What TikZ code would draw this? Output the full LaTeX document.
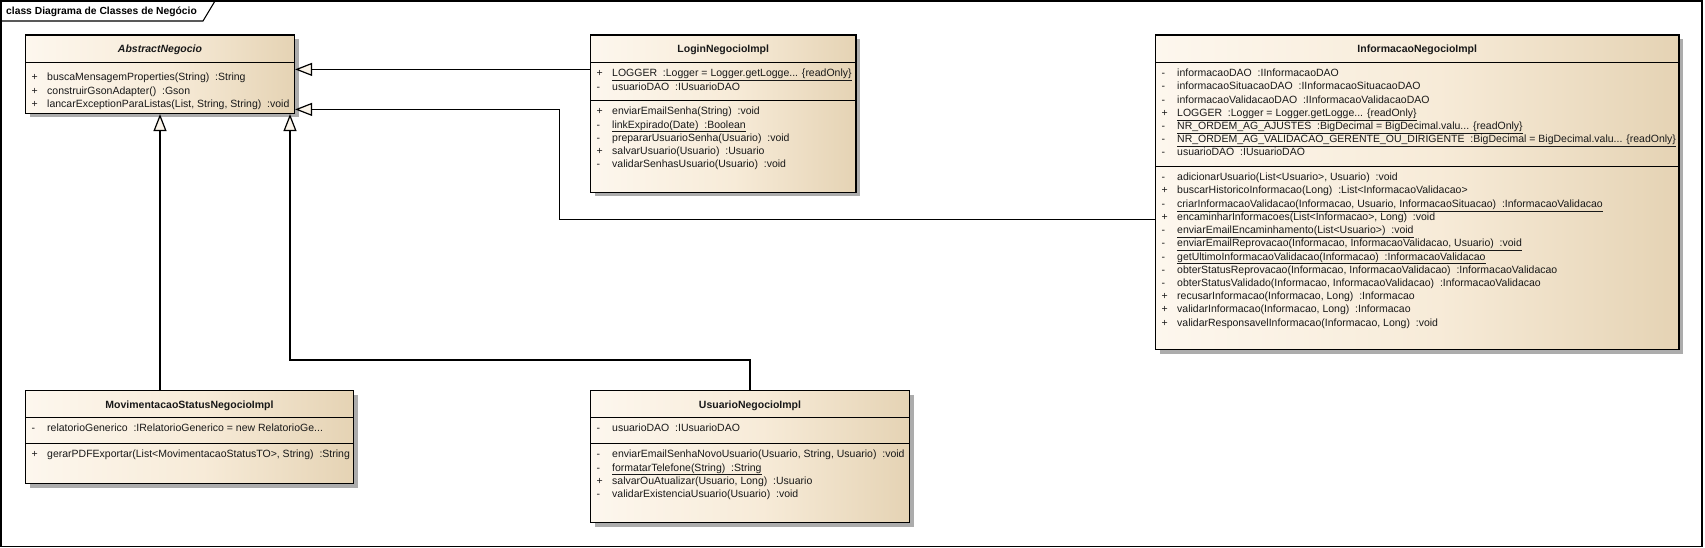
\documentclass[tikz,border=0pt]{standalone}
\usepackage{fontspec}
\setmainfont{Liberation Sans}
\usetikzlibrary{arrows.meta,shadows}
\definecolor{gL}{RGB}{253,247,238}
\definecolor{gM}{RGB}{247,235,216}
\definecolor{gR}{RGB}{229,211,180}
\definecolor{shad}{RGB}{172,172,172}
\definecolor{tipfill}{RGB}{250,244,234}
\definecolor{txt}{RGB}{25,25,25}
\pgfdeclarehorizontalshading{umlshade}{100bp}{color(0bp)=(gL); color(25bp)=(gL); color(52bp)=(gM); color(75bp)=(gR); color(100bp)=(gR)}
\newcommand{\umlrow}[5]{%
  \node[vis] (#1v) at (#2+6,#3+3.8) {#4};
  \node[rowtxt] (#1) at (#2+21.5,#3+3.8) {#5};}
\begin{document}
\begin{tikzpicture}[x=1pt,y=-1pt,
  font=\fontsize{10.5}{13}\selectfont,
  box/.style={rectangle, draw=black, line width=1.2pt, inner sep=0pt, shade, shading=umlshade,
    drop shadow={shadow xshift=4pt, shadow yshift=-4pt, fill=shad, opacity=1}},
  sepline/.style={line width=0.9pt},
  ttl/.style={anchor=base, inner sep=0pt, text=txt, font=\fontsize{10.5}{13}\selectfont\bfseries},
  vis/.style={anchor=base west, inner sep=0pt, text=txt},
  rowtxt/.style={anchor=base west, inner sep=0pt, text=txt},
  inh/.style={line width=1.2pt, -{Triangle[length=17pt,width=13pt,fill=tipfill]}},
  frametitle/.style={anchor=base west, inner sep=0pt, font=\fontsize{10.3}{13}\selectfont\bfseries}]
\useasboundingbox (0,0) rectangle (1705,548);
% frame
\draw[line width=1.2pt] (1,1) rectangle (1702,546.5);
\draw[line width=1.1pt] (1,21) -- (203,21) -- (215,1);
\node[frametitle] (ftitle) at (6,15) {class Diagrama de Classes de Negócio};

% AbstractNegocio
\node[box, minimum width=269pt, minimum height=78.5pt] (abs) at (160,74.25) {};
\draw[sepline] (25.5,62.3) -- (294.5,62.3);
\node[ttl, font=\fontsize{10.5}{13}\selectfont\bfseries\itshape] (absT) at (160,52.5) {AbstractNegocio};
\umlrow{a1}{25.5}{77}{+}{buscaMensagemProperties(String) \ :String}
\umlrow{a2}{25.5}{90.3}{+}{construirGsonAdapter() \ :Gson}
\umlrow{a3}{25.5}{103.6}{+}{lancarExceptionParaListas(List, String, String) \ :void}

% LoginNegocioImpl
\node[box, minimum width=265.5pt, minimum height=157.5pt] (login) at (723.25,113.75) {};
\draw[sepline] (590.5,62.5) -- (856,62.5);
\draw[sepline] (590.5,100.5) -- (856,100.5);
\node[ttl] (loginT) at (723.25,52.8) {LoginNegocioImpl};
\umlrow{l1}{590.5}{73}{+}{\underline{LOGGER \ :Logger = Logger.getLogge... \{readOnly\}}}
\umlrow{l2}{590.5}{86.3}{-}{usuarioDAO \ :IUsuarioDAO}
\umlrow{l3}{590.5}{111}{+}{enviarEmailSenha(String) \ :void}
\umlrow{l4}{590.5}{124.3}{-}{\underline{linkExpirado(Date) \ :Boolean}}
\umlrow{l5}{590.5}{137.6}{-}{prepararUsuarioSenha(Usuario) \ :void}
\umlrow{l6}{590.5}{150.9}{+}{salvarUsuario(Usuario) \ :Usuario}
\umlrow{l7}{590.5}{164.2}{-}{validarSenhasUsuario(Usuario) \ :void}

% InformacaoNegocioImpl
\node[box, minimum width=523.5pt, minimum height=314.5pt] (info) at (1417.25,192.25) {};
\draw[sepline] (1155.5,62.5) -- (1679,62.5);
\draw[sepline] (1155.5,166) -- (1679,166);
\node[ttl] (infoT) at (1417.25,52.8) {InformacaoNegocioImpl};
\umlrow{i1}{1155.5}{73}{-}{informacaoDAO \ :IInformacaoDAO}
\umlrow{i2}{1155.5}{86.2}{-}{informacaoSituacaoDAO \ :IInformacaoSituacaoDAO}
\umlrow{i3}{1155.5}{99.4}{-}{informacaoValidacaoDAO \ :IInformacaoValidacaoDAO}
\umlrow{i4}{1155.5}{112.6}{+}{\underline{LOGGER \ :Logger = Logger.getLogge... \{readOnly\}}}
\umlrow{i5}{1155.5}{125.8}{-}{\underline{NR\_ORDEM\_AG\_AJUSTES \ :BigDecimal = BigDecimal.valu... \{readOnly\}}}
\umlrow{i6}{1155.5}{139}{-}{\underline{NR\_ORDEM\_AG\_VALIDACAO\_GERENTE\_OU\_DIRIGENTE \ :BigDecimal = BigDecimal.valu... \{readOnly\}}}
\umlrow{i7}{1155.5}{152.2}{-}{usuarioDAO \ :IUsuarioDAO}
\umlrow{m1}{1155.5}{177}{-}{adicionarUsuario(List<Usuario>, Usuario) \ :void}
\umlrow{m2}{1155.5}{190.2}{+}{buscarHistoricoInformacao(Long) \ :List<InformacaoValidacao>}
\umlrow{m3}{1155.5}{203.4}{-}{\underline{criarInformacaoValidacao(Informacao, Usuario, InformacaoSituacao) \ :InformacaoValidacao}}
\umlrow{m4}{1155.5}{216.6}{+}{encaminharInformacoes(List<Informacao>, Long) \ :void}
\umlrow{m5}{1155.5}{229.8}{-}{\underline{enviarEmailEncaminhamento(List<Usuario>) \ :void}}
\umlrow{m6}{1155.5}{243}{-}{\underline{enviarEmailReprovacao(Informacao, InformacaoValidacao, Usuario) \ :void}}
\umlrow{m7}{1155.5}{256.2}{-}{\underline{getUltimoInformacaoValidacao(Informacao) \ :InformacaoValidacao}}
\umlrow{m8}{1155.5}{269.4}{-}{obterStatusReprovacao(Informacao, InformacaoValidacao) \ :InformacaoValidacao}
\umlrow{m9}{1155.5}{282.6}{-}{obterStatusValidado(Informacao, InformacaoValidacao) \ :InformacaoValidacao}
\umlrow{m10}{1155.5}{295.8}{+}{recusarInformacao(Informacao, Long) \ :Informacao}
\umlrow{m11}{1155.5}{309}{+}{validarInformacao(Informacao, Long) \ :Informacao}
\umlrow{m12}{1155.5}{322.2}{+}{validarResponsavelInformacao(Informacao, Long) \ :void}

% MovimentacaoStatusNegocioImpl
\node[box, minimum width=328pt, minimum height=93pt] (mov) at (189.5,437) {};
\draw[sepline] (25.5,417) -- (353.5,417);
\draw[sepline] (25.5,443) -- (353.5,443);
\node[ttl] (movT) at (189.5,408) {MovimentacaoStatusNegocioImpl};
\umlrow{v1}{25.5}{427.7}{-}{relatorioGenerico \ :IRelatorioGenerico = new RelatorioGe...}
\umlrow{v2}{25.5}{454}{+}{gerarPDFExportar(List<MovimentacaoStatusTO>, String) \ :String}

% UsuarioNegocioImpl
\node[box, minimum width=319pt, minimum height=132pt] (usu) at (750,456.5) {};
\draw[sepline] (590.5,417) -- (909.5,417);
\draw[sepline] (590.5,443) -- (909.5,443);
\node[ttl] (usuT) at (750,408) {UsuarioNegocioImpl};
\umlrow{u1}{590.5}{427.7}{-}{usuarioDAO \ :IUsuarioDAO}
\umlrow{u2}{590.5}{454}{-}{enviarEmailSenhaNovoUsuario(Usuario, String, Usuario) \ :void}
\umlrow{u3}{590.5}{467.3}{-}{\underline{formatarTelefone(String) \ :String}}
\umlrow{u4}{590.5}{480.6}{+}{salvarOuAtualizar(Usuario, Long) \ :Usuario}
\umlrow{u5}{590.5}{493.9}{-}{validarExistenciaUsuario(Usuario) \ :void}

% generalizations
\draw[inh] ([yshift=-35pt]login.north west) -- ([yshift=-35pt]abs.north east);
\draw[inh] ([yshift=-185.5pt]info.north west) -- ++(-595.5,0) |- ([yshift=-75pt]abs.north east);
\draw[inh] (mov.north -| abs.south) -- (abs.south);
\draw[inh] (usu.north) -- ++(0,-30) -| ([xshift=130pt]abs.south);
\end{tikzpicture}
\end{document}
